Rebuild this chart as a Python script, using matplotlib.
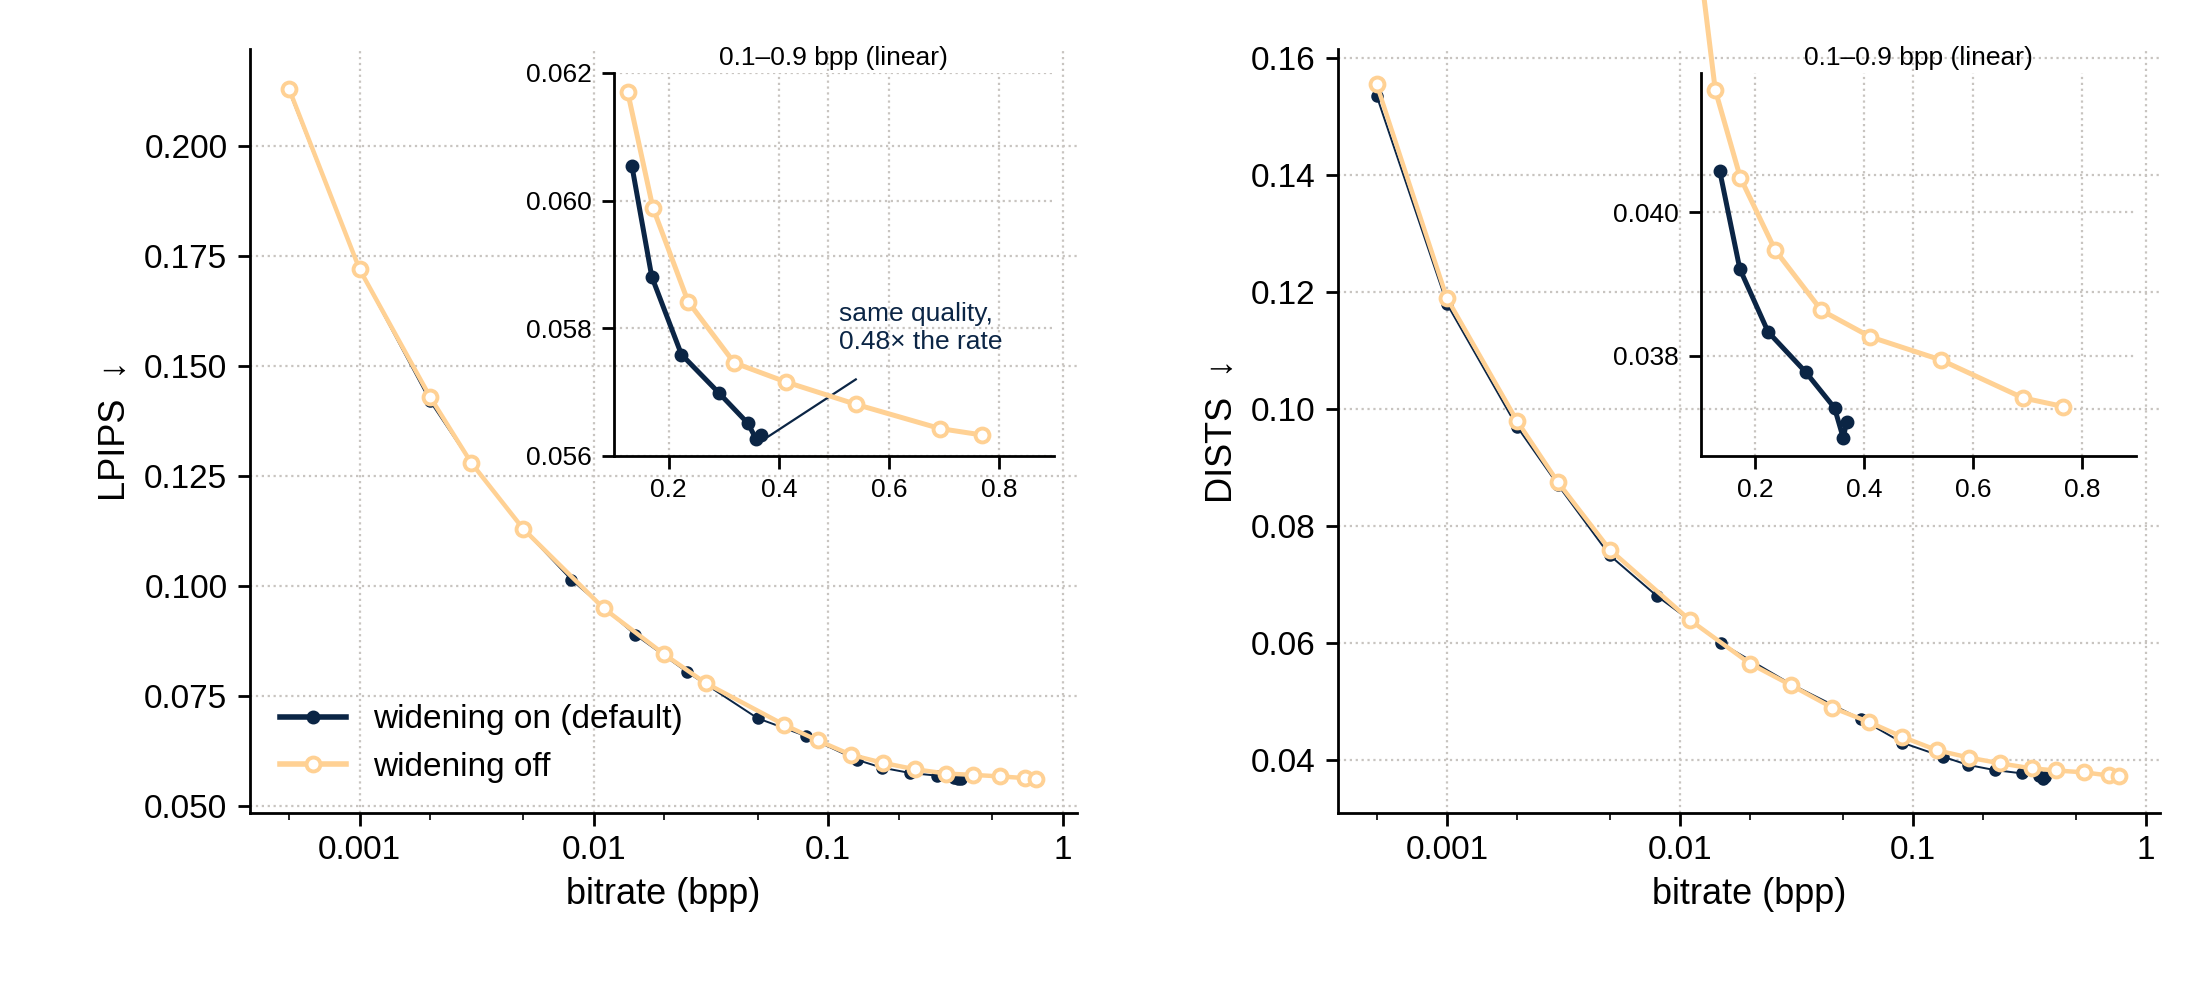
import numpy as np
import matplotlib
matplotlib.use("Agg")
import matplotlib.pyplot as plt
from matplotlib.lines import Line2D
from matplotlib.ticker import LogLocator, FixedLocator, FormatStrFormatter, NullFormatter

plt.rcParams['font.family'] = ['Liberation Sans', 'DejaVu Sans']
plt.rcParams['axes.linewidth'] = 1.0
plt.rcParams['xtick.major.width'] = 1.0
plt.rcParams['ytick.major.width'] = 1.0
plt.rcParams['xtick.major.size'] = 4.5
plt.rcParams['ytick.major.size'] = 4.5
plt.rcParams['xtick.minor.size'] = 2.5

NAVY = '#0b2545'
ORANGE = '#ffd194'

# LPIPS
lp_on_x = [0.0005, 0.001, 0.002, 0.003, 0.005, 0.008, 0.015, 0.025, 0.05, 0.08,
           0.133, 0.169, 0.223, 0.292, 0.344, 0.359, 0.368]
lp_on_y = [0.2125, 0.172, 0.142, 0.128, 0.113, 0.1015, 0.089, 0.0805, 0.070, 0.066,
           0.06054, 0.05881, 0.05759, 0.05698, 0.05651, 0.05626, 0.05633]
lp_off_x = [0.0005, 0.001, 0.002, 0.003, 0.005, 0.011, 0.02, 0.03, 0.065, 0.09,
            0.125, 0.171, 0.235, 0.319, 0.413, 0.540, 0.693, 0.769]
lp_off_y = [0.213, 0.172, 0.143, 0.128, 0.113, 0.095, 0.0845, 0.078, 0.0685, 0.065,
            0.06171, 0.05989, 0.05842, 0.05746, 0.05716, 0.05681, 0.05643, 0.05633]

# DISTS
ds_on_x = [0.0005, 0.001, 0.002, 0.003, 0.005, 0.008, 0.015, 0.03, 0.06, 0.09,
           0.135, 0.172, 0.224, 0.293, 0.346, 0.362, 0.368]
ds_on_y = [0.1535, 0.118, 0.097, 0.087, 0.075, 0.068, 0.060, 0.053, 0.047, 0.043,
           0.04058, 0.03921, 0.03833, 0.03777, 0.03727, 0.03685, 0.03707]
ds_off_x = [0.0005, 0.001, 0.002, 0.003, 0.005, 0.011, 0.02, 0.03, 0.045, 0.065, 0.09,
            0.127, 0.173, 0.237, 0.322, 0.412, 0.541, 0.692, 0.766]
ds_off_y = [0.1555, 0.119, 0.098, 0.0875, 0.076, 0.064, 0.0565, 0.0528, 0.049, 0.0465, 0.044,
            0.04170, 0.04048, 0.03947, 0.03863, 0.03826, 0.03794, 0.03741, 0.03729]

fig = plt.figure(figsize=(11, 5), dpi=200)

def grid(ax):
    ax.grid(True, which='major', linestyle=':', color='#c8c4c0', linewidth=0.8)
    ax.set_axisbelow(True)

def main(ax, onx, ony, offx, offy, ylabel, yticks, fmt, ylim):
    grid(ax)
    ax.plot(onx, ony, '-o', color=NAVY, lw=0.7, ms=3.5, zorder=3)
    ax.plot(offx, offy, '-o', color=ORANGE, lw=1.6, ms=5, mfc='white', mec=ORANGE, mew=1.4, zorder=4)
    ax.set_xscale('log')
    ax.set_xlim(0.00034, 1.15)
    ax.set_ylim(*ylim)
    ax.xaxis.set_major_locator(FixedLocator([0.001, 0.01, 0.1, 1]))
    ax.set_xticklabels(['0.001', '0.01', '0.1', '1'])
    ax.xaxis.set_minor_locator(LogLocator(base=10, subs=(2, 5)))
    ax.xaxis.set_minor_formatter(NullFormatter())
    ax.set_yticks(yticks)
    ax.yaxis.set_major_formatter(FormatStrFormatter(fmt))
    ax.spines['top'].set_visible(False)
    ax.spines['right'].set_visible(False)
    ax.tick_params(labelsize=12)
    ax.set_xlabel('bitrate (bpp)', fontsize=13)
    ax.set_ylabel(ylabel, fontsize=13)

def inset(rect, onx, ony, offx, offy, yticks, fmt, ylim):
    ax = fig.add_axes(rect)
    ax.patch.set_alpha(0)
    grid(ax)
    ax.plot(onx, ony, '-o', color=NAVY, lw=1.8, ms=4, zorder=3)
    ax.plot(offx, offy, '-o', color=ORANGE, lw=1.8, ms=5, mfc='white', mec=ORANGE, mew=1.4,
            zorder=4, clip_on=False)
    ax.set_xlim(0.1, 0.9)
    ax.set_ylim(*ylim)
    ax.set_xticks([0.2, 0.4, 0.6, 0.8])
    ax.set_yticks(yticks)
    ax.yaxis.set_major_formatter(FormatStrFormatter(fmt))
    ax.spines['top'].set_visible(False)
    ax.spines['right'].set_visible(False)
    ax.tick_params(labelsize=9.5)
    ax.set_title('0.1–0.9 bpp (linear)', fontsize=9.5, pad=3)
    return ax

ax1 = fig.add_axes([0.1135, 0.187, 0.376, 0.764])
main(ax1, lp_on_x, lp_on_y, lp_off_x, lp_off_y, 'LPIPS  ↓',
     [0.05, 0.075, 0.1, 0.125, 0.15, 0.175, 0.2], '%.3f', (0.0485, 0.222))
handles = [Line2D([], [], color=NAVY, lw=2, marker='o', ms=4),
           Line2D([], [], color=ORANGE, lw=2, marker='o', ms=5, mfc='white', mec=ORANGE, mew=1.4)]
ax1.legend(handles, ['widening on (default)', 'widening off'], loc='lower left',
           frameon=False, fontsize=12, bbox_to_anchor=(0.0, 0.0))

ax2 = fig.add_axes([0.608, 0.187, 0.374, 0.764])
main(ax2, ds_on_x, ds_on_y, ds_off_x, ds_off_y, 'DISTS  ↓',
     [0.04, 0.06, 0.08, 0.1, 0.12, 0.14, 0.16], '%.2f', (0.031, 0.1615))

in1 = inset([0.279, 0.544, 0.2, 0.383], lp_on_x[10:], lp_on_y[10:], lp_off_x[10:], lp_off_y[10:],
            [0.056, 0.058, 0.060, 0.062], '%.3f', (0.056, 0.062))
in1.plot([0.38, 0.54], [0.0563, 0.0572], color=NAVY, lw=0.8)
in1.text(0.51, 0.0576, 'same quality,\n0.48× the rate', color=NAVY, fontsize=9.5, va='bottom', ha='left')

in2 = inset([0.773, 0.544, 0.198, 0.383], ds_on_x[10:], ds_on_y[10:], ds_off_x[10:], ds_off_y[10:],
            [0.038, 0.040], '%.3f', (0.0366, 0.04194))

fig.savefig('out.png', dpi=200)
